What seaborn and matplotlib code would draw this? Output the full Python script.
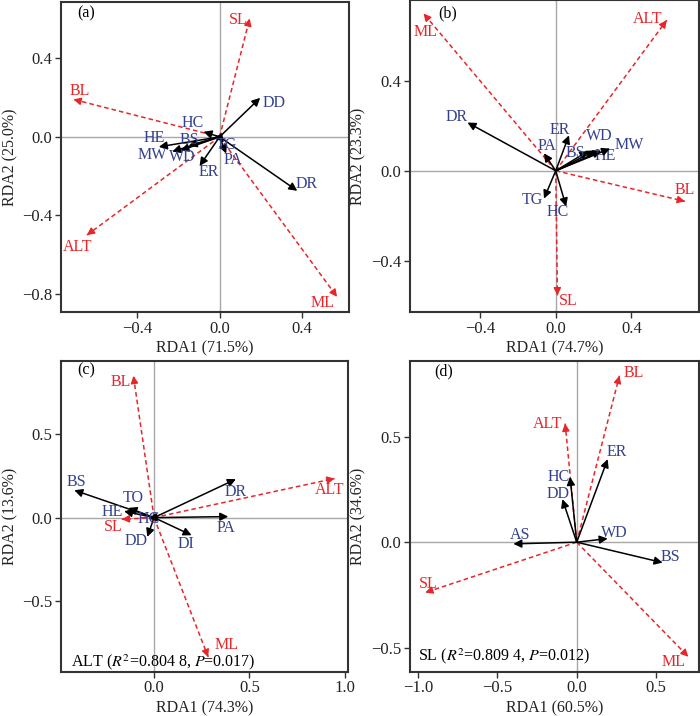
import numpy as np
import pandas as pd
import matplotlib
matplotlib.use("Agg")
import matplotlib.pyplot as plt
import seaborn as sns

# panel (a)
a_env = ["SL", "BL", "ALT", "ML"]
a_env_x = [0.146, -0.709, -0.644, 0.570]
a_env_y = [0.604, 0.191, -0.501, -0.816]
a_sp = ["DD", "DR", "HC", "HE", "MW", "WD", "BS", "ER", "PA", "TG"]
a_sp_x = [0.197, 0.377, -0.078, -0.295, -0.23, -0.19, -0.15, -0.097, 0.032, 0.02]
a_sp_y = [0.199, -0.275, 0.026, -0.051, -0.075, -0.07, -0.045, -0.148, -0.085, -0.03]

# panel (b)
b_env = ["ML", "ALT", "BL", "SL"]
b_env_x = [-0.698, 0.586, 0.682, 0.009]
b_env_y = [0.701, 0.671, -0.136, -0.555]
b_sp = ["DR", "ER", "PA", "BS", "WD", "HE", "MW", "TG", "HC"]
b_sp_x = [-0.466, 0.070, -0.062, 0.172, 0.207, 0.24, 0.287, -0.062, 0.055]
b_sp_y = [0.215, 0.158, 0.078, 0.088, 0.09, 0.09, 0.099, -0.124, -0.159]

# panel (c)
c_env = ["BL", "ALT", "ML", "SL"]
c_env_x = [-0.108, 0.946, 0.284, -0.169]
c_env_y = [0.845, 0.233, -0.831, -0.010]
c_sp = ["BS", "TO", "HE", "DR", "PA", "DI", "DD", "HC"]
c_sp_x = [-0.418, -0.134, -0.157, 0.429, 0.389, 0.197, -0.035, -0.03]
c_sp_y = [0.163, 0.058, 0.038, 0.229, 0.006, -0.105, -0.115, -0.005]

# panel (d)
d_env = ["BL", "ALT", "SL", "ML"]
d_env_x = [0.269, -0.073, -0.954, 0.703]
d_env_y = [0.790, 0.563, -0.239, -0.544]
d_sp = ["ER", "HC", "DD", "AS", "WD", "BS"]
d_sp_x = [0.195, -0.042, -0.090, -0.399, 0.195, 0.541]
d_sp_y = [0.394, 0.310, 0.204, -0.008, 0.017, -0.097]

# label offsets (pixels from arrow tip)
a_off = {"SL": (-11, -2), "BL": (6, 8), "ALT": (-9, -12), "ML": (-14, -6),
         "DD": (14, -5), "DR": (9, 7), "HC": (-11, 9), "HE": (-5, 9),
         "MW": (-20, -3), "WD": (2, -6), "BS": (1, 6), "ER": (9, -6),
         "PA": (7, -6), "TG": (3, -2)}
b_off = {"ML": (2, -19), "ALT": (-19, 1), "BL": (0, 11), "SL": (11, -6),
         "DR": (-11, 6), "ER": (-9, 5), "PA": (3, 7), "BS": (-13, -2),
         "WD": (4, 15), "MW": (19, 4), "HE": (4, -5), "TG": (-12, -1),
         "HC": (-8, -6)}
c_off = {"BL": (-13, -6), "ALT": (-5, -11), "ML": (18, 12), "SL": (-9, -8),
         "BS": (2, 8), "TO": (5, 10), "HE": (-12, -1), "DR": (0, -13),
         "PA": (-2, -11), "DI": (-6, -9), "DD": (-11, -4), "HC": (0, -1)}
d_off = {"BL": (14, 3), "ALT": (-18, 0), "SL": (3, 9), "ML": (-15, -5),
         "ER": (9, 7), "HC": (-11, 0), "DD": (-4, 5), "AS": (7, 9),
         "WD": (7, 6), "BS": (8, 6)}

RED = "#e8262a"
BLUE = "#33408f"
GREY = "#333333"
FS = 11.5

sns.set_theme(style="ticks")
plt.rcParams["font.family"] = ["Liberation Serif", "DejaVu Serif"]
plt.rcParams["mathtext.fontset"] = "stix"


def fmt(v, pos):
    s = "%.1f" % abs(v)
    return ("\u2212" + s) if v < -1e-9 else s


def draw_panel(ax, env, ex, ey, sp, sx, sy, off, xlim, ylim, xticks, yticks,
               xlabel, ylabel, tag, tagpos, note=None, notepos=None):
    ax.axhline(0, color="#a8a8a8", lw=1, zorder=0)
    ax.axvline(0, color="#a8a8a8", lw=1, zorder=0)

    # dashed env lines through seaborn
    rows = []
    for n, x, y in zip(env, ex, ey):
        rows.append({"name": n, "x": 0.0, "y": 0.0})
        rows.append({"name": n, "x": x, "y": y})
    df = pd.DataFrame(rows)
    sns.lineplot(data=df, x="x", y="y", units="name", estimator=None,
                 sort=False, color=RED, lw=1.1, linestyle=(0, (3, 2)), ax=ax)
    for n, x, y in zip(env, ex, ey):
        ax.annotate("", xy=(x, y), xytext=(x * 0.97, y * 0.97),
                    arrowprops=dict(arrowstyle="-|>", color=RED, lw=1,
                                    mutation_scale=11, shrinkA=0, shrinkB=0))
        dx, dy = off[n]
        ax.annotate(n, xy=(x, y), xytext=(dx, dy), textcoords="offset pixels",
                    ha="center", va="center", color=RED, fontsize=FS)

    for n, x, y in zip(sp, sx, sy):
        ax.annotate("", xy=(x, y), xytext=(0, 0),
                    arrowprops=dict(arrowstyle="-|>", color="black", lw=1.1,
                                    mutation_scale=12, shrinkA=0, shrinkB=0))
        dx, dy = off[n]
        ax.annotate(n, xy=(x, y), xytext=(dx, dy), textcoords="offset pixels",
                    ha="center", va="center", color=BLUE, fontsize=FS)

    ax.set_xlim(xlim)
    ax.set_ylim(ylim)
    ax.set_xticks(xticks)
    ax.set_yticks(yticks)
    ax.xaxis.set_major_formatter(matplotlib.ticker.FuncFormatter(fmt))
    ax.yaxis.set_major_formatter(matplotlib.ticker.FuncFormatter(fmt))
    ax.tick_params(direction="out", length=4, width=1, color=GREY,
                   labelsize=12, labelcolor="#222222", pad=2)
    ax.set_xlabel(xlabel, fontsize=FS, color="#222222", labelpad=3)
    ax.set_ylabel(ylabel, fontsize=FS, color="#222222", labelpad=3)
    for s in ax.spines.values():
        s.set_color(GREY)
        s.set_linewidth(1.5)
    ax.text(tagpos[0], tagpos[1], tag, transform=ax.transAxes, ha="center",
            va="center", fontsize=FS, color="black")
    if note:
        ax.text(notepos[0], notepos[1], note, transform=ax.transAxes,
                ha="left", va="bottom", fontsize=FS, color="black")


fig = plt.figure(figsize=(7, 7.16), dpi=100)
ax_a = fig.add_axes([0.087, 0.564, 0.411, 0.433])
ax_b = fig.add_axes([0.585, 0.564, 0.414, 0.436])
ax_c = fig.add_axes([0.087, 0.0615, 0.410, 0.434])
ax_d = fig.add_axes([0.585, 0.0615, 0.414, 0.434])

draw_panel(ax_a, a_env, a_env_x, a_env_y, a_sp, a_sp_x, a_sp_y, a_off,
           (-0.77, 0.626), (-0.894, 0.687), [-0.4, 0.0, 0.4], [-0.8, -0.4, 0.0, 0.4],
           "RDA1 (71.5%)", "RDA2 (25.0%)", "(a)", (0.089, 0.964))
draw_panel(ax_b, b_env, b_env_x, b_env_y, b_sp, b_sp_x, b_sp_y, b_off,
           (-0.772, 0.758), (-0.63, 0.761), [-0.4, 0.0, 0.4], [-0.4, 0.0, 0.4],
           "RDA1 (74.7%)", "RDA2 (23.3%)", "(b)", (0.133, 0.957))
draw_panel(ax_c, c_env, c_env_x, c_env_y, c_sp, c_sp_x, c_sp_y, c_off,
           (-0.488, 1.016), (-0.92, 0.932), [0.0, 0.5, 1.0], [-0.5, 0.0, 0.5],
           "RDA1 (74.3%)", "RDA2 (13.6%)", "(c)", (0.089, 0.971),
           "ALT ($\\mathit{R}^2$=0.804 8, $\\mathit{P}$=0.017)", (0.035, 0.0))
draw_panel(ax_d, d_env, d_env_x, d_env_y, d_sp, d_sp_x, d_sp_y, d_off,
           (-1.053, 0.772), (-0.616, 0.859), [-1.0, -0.5, 0.0, 0.5], [-0.5, 0.0, 0.5],
           "RDA1 (60.5%)", "RDA2 (34.6%)", "(d)", (0.119, 0.968),
           "SL ($\\mathit{R}^2$=0.809 4, $\\mathit{P}$=0.012)", (0.031, 0.02))

fig.savefig("out.png", dpi=100)
